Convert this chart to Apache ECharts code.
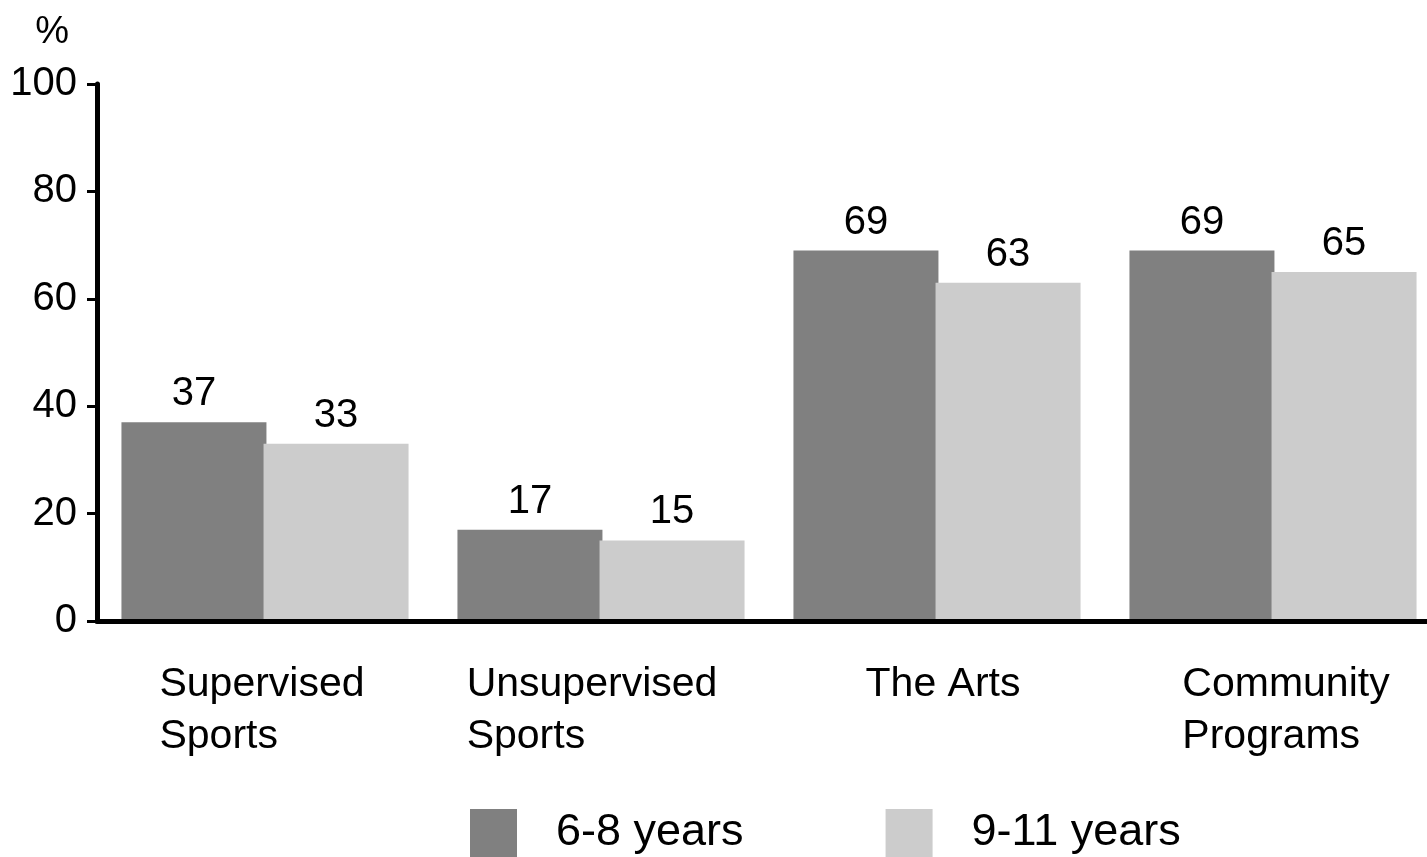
<!DOCTYPE html>
<html>
<head>
<meta charset="utf-8">
<script src="https://cdn.jsdelivr.net/npm/echarts@6/dist/echarts.min.js"></script>
<style>
  html, body { margin: 0; padding: 0; background: #fff; }
  #chart { width: 1427px; height: 857px; }
</style>
</head>
<body>
<div id="chart"></div>
<script>
// categories and values
const categories = ['Supervised\nSports', 'Unsupervised\nSports', 'The Arts', 'Community\nPrograms'];
const young = [37, 17, 69, 69];   // 6-8 years
const older = [33, 15, 63, 65];   // 9-11 years
const seriesNames = ['6-8 years', '9-11 years'];

const font = 'Liberation Sans, Arial, sans-serif';

// small nudges so the label blocks sit where the original put them
const labelPad = [[0, 6, 0, 0], [0, 18, 0, 0], [0, 0, 0, 12], [0, 0, 0, 26]];

const chart = echarts.init(document.getElementById('chart'));

// each label line left aligned inside a centred block
function catLabel(name) {
  return name.split('\n').map(l => '{a|' + l + '}').join('\n');
}

const option = {
  animation: false,
  textStyle: { fontFamily: font },
  grid: {
    left: 97, top: 84, bottom: 236, width: 1344,
    containLabel: false,
    outerBoundsMode: 'none'
  },
  legend: {
    left: 465,
    top: 804,
    itemWidth: 47,
    itemHeight: 48,
    itemGap: 142,
    icon: 'rect',
    textStyle: { fontSize: 45, color: '#000', fontFamily: font, padding: [0, 0, 0, 34] },
    data: seriesNames
  },
  xAxis: {
    type: 'category',
    z: 5,
    data: categories.map((c, i) => ({ value: c, textStyle: { padding: labelPad[i] } })),
    axisLine: { lineStyle: { color: '#000', width: 5 } },
    axisTick: { show: false },
    axisLabel: {
      margin: 38,
      formatter: catLabel,
      rich: {
        a: { align: 'left', fontSize: 41, lineHeight: 52, color: '#000', fontFamily: font }
      }
    }
  },
  yAxis: {
    type: 'value',
    z: 5,
    min: 0,
    max: 100,
    interval: 20,
    name: '%',
    nameLocation: 'end',
    nameGap: 32,
    nameTextStyle: { fontSize: 38, color: '#000', fontFamily: font, align: 'right', padding: [0, 28, 0, 0] },
    axisLine: { show: true, lineStyle: { color: '#000', width: 5 } },
    axisTick: { show: true, length: 10, lineStyle: { color: '#000', width: 3 } },
    axisLabel: { fontSize: 40, color: '#000', margin: 20, fontFamily: font },
    splitLine: { show: false }
  },
  series: [
    {
      name: seriesNames[0],
      type: 'bar',
      data: young,
      barWidth: 145,
      barGap: '-2%',
      itemStyle: { color: '#808080' },
      label: { show: true, position: 'top', distance: 8, fontSize: 40, color: '#000', fontFamily: font }
    },
    {
      name: seriesNames[1],
      type: 'bar',
      data: older,
      barWidth: 145,
      itemStyle: { color: '#cccccc' },
      label: { show: true, position: 'top', distance: 8, fontSize: 40, color: '#000', fontFamily: font }
    }
  ]
};

chart.setOption(option);
window.addEventListener('resize', function () {
  chart.resize();
});
</script>
</body>
</html>
